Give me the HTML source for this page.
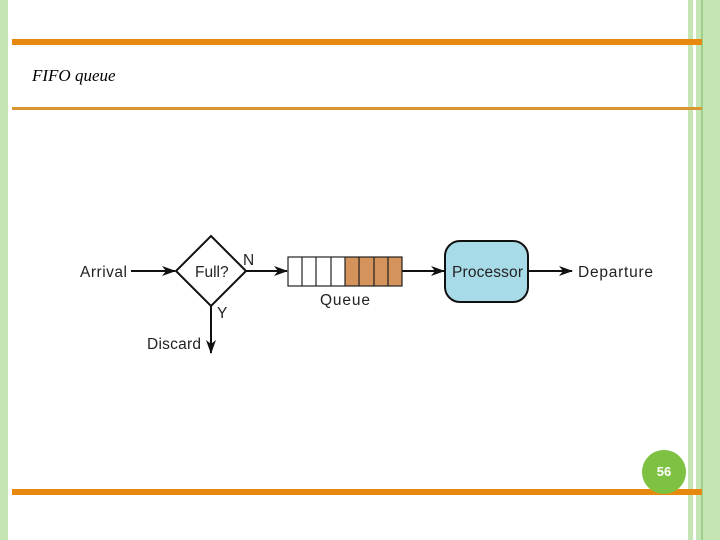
<html><head><style>body{margin:0;width:720px;height:540px;position:relative;background:#fff;overflow:hidden;font-family:"Liberation Sans",sans-serif}
.a{position:absolute}</style></head><body>
<div class="a" style="left:0;top:0;width:8px;height:540px;background:#c5e5b5"></div>
<div class="a" style="left:688px;top:0;width:5px;height:540px;background:#c5e5b5"></div>
<div class="a" style="left:696px;top:0;width:24px;height:540px;background:#c5e5b5"></div>
<div class="a" style="left:701px;top:0;width:2px;height:540px;background:#9fd08a"></div>
<div class="a" style="left:12px;top:39px;width:690px;height:6px;background:#e8890f"></div>
<div class="a" style="left:12px;top:107px;width:690px;height:3px;background:#d99530"></div>
<div class="a" style="left:12px;top:489px;width:690px;height:6px;background:#e8890f"></div>
<div class="a" style="left:32px;top:66px;font-family:'Liberation Serif',serif;font-style:italic;font-size:17px">FIFO queue</div>
<div class="a" style="left:642px;top:450px;width:44px;height:44px;border-radius:50%;background:#7dc242;color:#fff;font-weight:bold;font-size:13px;text-align:center;line-height:44px">56</div>
<svg class="a" style="left:0;top:0" width="720" height="540" font-family="Liberation Sans, sans-serif" font-size="15.5">
<defs><marker id="m" markerWidth="14" markerHeight="10" refX="13" refY="5" orient="auto" markerUnits="userSpaceOnUse"><path d="M0,0 L14,5 L0,10 L4,5z" fill="#111"/></marker></defs>
<g stroke="#111" stroke-width="2" fill="none">
<line x1="131" y1="271" x2="175" y2="271" marker-end="url(#m)"/>
<polygon points="211,236 246,271 211,306 176,271"/>
<line x1="246" y1="271" x2="287" y2="271" marker-end="url(#m)"/>
<line x1="211" y1="306" x2="211" y2="353" marker-end="url(#m)"/>
<line x1="402" y1="271" x2="444" y2="271" marker-end="url(#m)"/>
<line x1="528" y1="271" x2="572" y2="271" marker-end="url(#m)"/>
</g>
<rect x="345" y="257" width="57" height="29" fill="#d4935a"/>
<g stroke="#222" stroke-width="1.2" fill="none">
<rect x="288" y="257" width="114" height="29"/>
<line x1="302" y1="257" x2="302" y2="286"/><line x1="316" y1="257" x2="316" y2="286"/><line x1="331" y1="257" x2="331" y2="286"/><line x1="345" y1="257" x2="345" y2="286"/><line x1="359" y1="257" x2="359" y2="286"/><line x1="374" y1="257" x2="374" y2="286"/><line x1="388" y1="257" x2="388" y2="286"/>
</g>
<rect x="445" y="241" width="83" height="61" rx="15" fill="#a8dbe8" stroke="#111" stroke-width="2"/>
<g fill="#222">
<text x="80" y="277" textLength="47">Arrival</text>
<text x="195" y="277">Full?</text>
<text x="243" y="265">N</text>
<text x="217" y="318">Y</text>
<text x="147" y="349" textLength="54">Discard</text>
<text x="320" y="305" textLength="50">Queue</text>
<text x="452" y="277" textLength="71">Processor</text>
<text x="578" y="277" textLength="75">Departure</text>
</g>
</svg>
</body></html>
